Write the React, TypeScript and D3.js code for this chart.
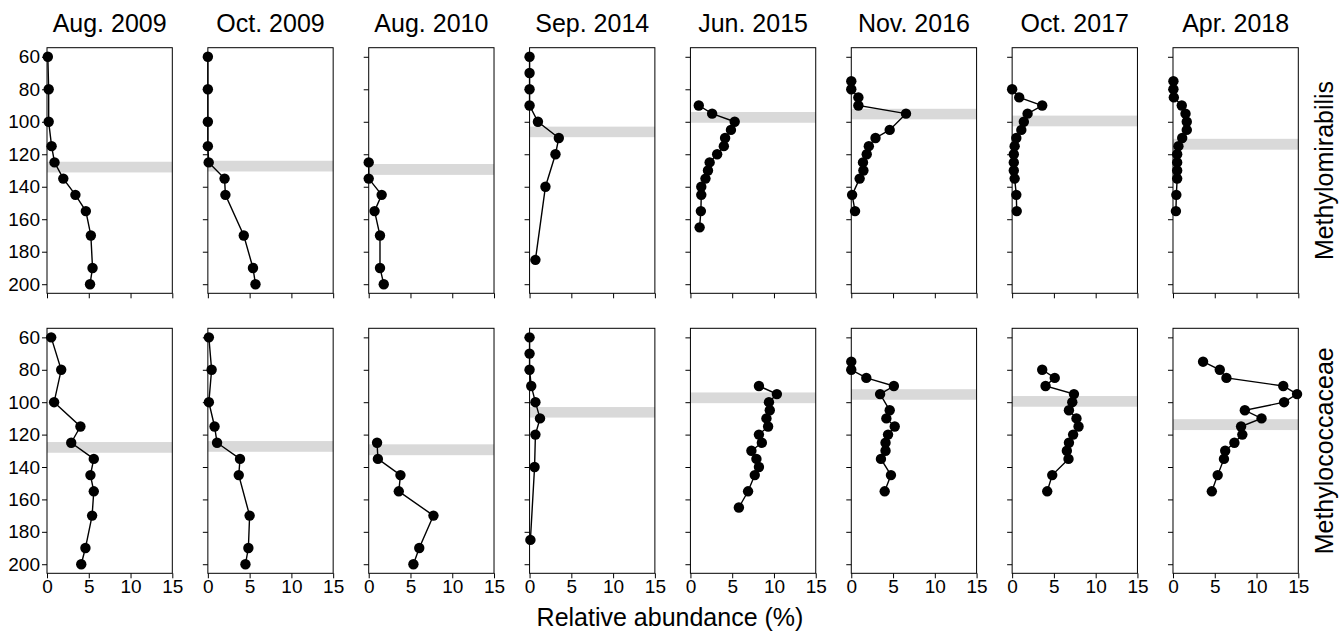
import React, { useEffect, useRef } from "react";
import * as d3 from "d3";

// sampling campaigns (one column each)
const dates = ["Aug. 2009", "Oct. 2009", "Aug. 2010", "Sep. 2014", "Jun. 2015", "Nov. 2016", "Oct. 2017", "Apr. 2018"];

// sampled depths (m) per campaign
const depths = [
  [60, 80, 100, 115, 125, 135, 145, 155, 170, 190, 200],
  [60, 80, 100, 115, 125, 135, 145, 170, 190, 200],
  [125, 135, 145, 155, 170, 190, 200],
  [60, 70, 80, 90, 100, 110, 120, 140, 185],
  [90, 95, 100, 105, 110, 115, 120, 125, 130, 135, 140, 145, 155, 165],
  [75, 80, 85, 90, 95, 105, 110, 115, 120, 125, 130, 135, 145, 155],
  [80, 85, 90, 95, 100, 105, 110, 115, 120, 125, 130, 135, 145, 155],
  [75, 80, 85, 90, 95, 100, 105, 110, 115, 120, 125, 130, 135, 145, 155],
];

// relative abundance (%) of Methylomirabilis
const methylomirabilis = [
  [0.1, 0.2, 0.2, 0.55, 0.9, 1.95, 3.4, 4.65, 5.25, 5.45, 5.15],
  [0, 0, 0, 0, 0.1, 2.0, 2.1, 4.3, 5.4, 5.7],
  [0, 0, 1.55, 0.7, 1.35, 1.35, 1.8],
  [0, 0, 0, 0, 1.0, 3.5, 3.1, 1.9, 0.7],
  [1.0, 2.6, 5.3, 4.85, 4.15, 4.0, 3.2, 2.3, 2.1, 1.8, 1.3, 1.3, 1.25, 1.1],
  [0, 0, 0.85, 0.85, 6.55, 4.6, 2.9, 2.1, 1.85, 1.4, 1.45, 1.0, 0.1, 0.45],
  [0, 0.85, 3.6, 1.85, 1.4, 1.1, 0.5, 0.3, 0.2, 0.2, 0.2, 0.3, 0.5, 0.55],
  [0.05, 0.05, 0.1, 1.05, 1.5, 1.65, 1.65, 1.1, 0.65, 0.5, 0.5, 0.5, 0.5, 0.4, 0.35],
];

// relative abundance (%) of Methylococcaceae
const methylococcaceae = [
  [0.5, 1.7, 0.85, 4.0, 2.9, 5.6, 5.2, 5.6, 5.4, 4.6, 4.1],
  [0.12, 0.45, 0.12, 0.8, 1.1, 3.85, 3.7, 5.0, 4.85, 4.5],
  [1.0, 1.1, 3.8, 3.6, 7.75, 6.05, 5.35],
  [0, 0, 0, 0.2, 0.7, 1.25, 0.7, 0.6, 0.1],
  [8.2, 10.35, 9.4, 9.5, 9.1, 9.3, 8.2, 8.55, 7.3, 7.9, 8.2, 7.7, 6.9, 5.8],
  [0, 0, 1.8, 5.1, 3.45, 4.6, 4.2, 5.2, 4.4, 4.1, 4.1, 3.55, 4.75, 4.0],
  [3.6, 5.1, 4.0, 7.4, 7.2, 6.8, 7.7, 7.95, 7.3, 6.8, 6.55, 6.75, 4.8, 4.2],
  [3.6, 5.6, 6.4, 13.2, 14.85, 13.3, 8.6, 10.6, 8.15, 8.3, 7.35, 6.25, 6.1, 5.35, 4.65],
];

// grey band (depth range, m) per campaign
const bandTop = [124.6, 124, 126, 103, 94, 92, 96.2, 110.5];
const bandBottom = [131.2, 130.6, 132.7, 109.5, 100.6, 98.5, 102.8, 117.2];

const groups = ["Methylomirabilis", "Methylococcaceae"];
const groupValues = [methylomirabilis, methylococcaceae];

const xTicks = [0, 5, 10, 15];
const yTicks = [60, 80, 100, 120, 140, 160, 180, 200];

const W = 1344;
const H = 632;
const FONT = "'Liberation Sans', Arial, Helvetica, sans-serif";
const rowTop = [47.7, 328.3];
const rowBottom = [293.3, 573.3];

function Axis({ axis, transform, showLabels }) {
  const ref = useRef(null);
  useEffect(() => {
    const g = d3.select(ref.current);
    g.call(axis);
    g.attr("font-family", FONT).attr("font-size", 19);
    g.select(".domain").remove();
    g.selectAll(".tick line").attr("stroke", "#000").attr("stroke-width", 1);
    g.selectAll(".tick text").attr("fill", "#000");
    if (!showLabels) g.selectAll(".tick text").remove();
  }, [axis, showLabels]);
  return <g ref={ref} transform={transform} />;
}

function Panel({ col, row, xBand }) {
  const left = xBand(dates[col]);
  const bw = xBand.bandwidth();
  const x = d3.scaleLinear().domain([0, 15]).range([left, left + bw]);
  const y = d3.scaleLinear().domain([54.4, 205.6]).range([rowTop[row], rowBottom[row]]);
  const pts = depths[col].map((d, i) => ({ depth: d, v: groupValues[row][col][i] }));
  const line = d3
    .line()
    .x((d) => x(d.v))
    .y((d) => y(d.depth));

  const yAxis = d3.axisLeft(y).tickValues(yTicks).tickSize(5).tickPadding(2);
  const xAxis = d3.axisBottom(x).tickValues(xTicks).tickSize(5).tickPadding(1.5);

  return (
    <g>
      <rect
        x={left}
        y={y(bandTop[col])}
        width={bw}
        height={y(bandBottom[col]) - y(bandTop[col])}
        fill="#d9d9d9"
      />
      <rect
        x={left}
        y={rowTop[row]}
        width={bw}
        height={rowBottom[row] - rowTop[row]}
        fill="none"
        stroke="#000"
        strokeWidth={1}
      />
      <Axis axis={yAxis} transform={`translate(${left},0)`} showLabels={col === 0} />
      <Axis axis={xAxis} transform={`translate(0,${rowBottom[row]})`} showLabels={row === 1} />
      <path d={line(pts)} fill="none" stroke="#000" strokeWidth={1.4} />
      {pts.map((p, i) => (
        <circle key={i} cx={x(p.v)} cy={y(p.depth)} r={5.2} fill="#000" />
      ))}
    </g>
  );
}

export default function App() {
  const xBand = d3.scaleBand().domain(dates).range([47, 1298.3]).paddingInner(0.221).paddingOuter(0);

  return (
    <div style={{ position: "absolute", left: 0, top: 0 }}>
      <svg width={W} height={H} style={{ display: "block", background: "#fff" }} fontFamily={FONT}>
        {dates.map((d) => (
          <text
            key={d}
            x={xBand(d) + xBand.bandwidth() / 2}
            y={32}
            textAnchor="middle"
            fontSize={25}
            fill="#000"
          >
            {d}
          </text>
        ))}
        {groups.map((g, row) =>
          dates.map((d, col) => <Panel key={`${g}-${d}`} col={col} row={row} xBand={xBand} />)
        )}
        {groups.map((g, row) => (
          <text
            key={g}
            transform={`translate(1333,${(rowTop[row] + rowBottom[row]) / 2}) rotate(-90)`}
            textAnchor="middle"
            fontSize={25}
            fill="#000"
          >
            {g}
          </text>
        ))}
        <text x={670} y={626} textAnchor="middle" fontSize={25} fill="#000">
          Relative abundance (%)
        </text>
      </svg>
    </div>
  );
}
